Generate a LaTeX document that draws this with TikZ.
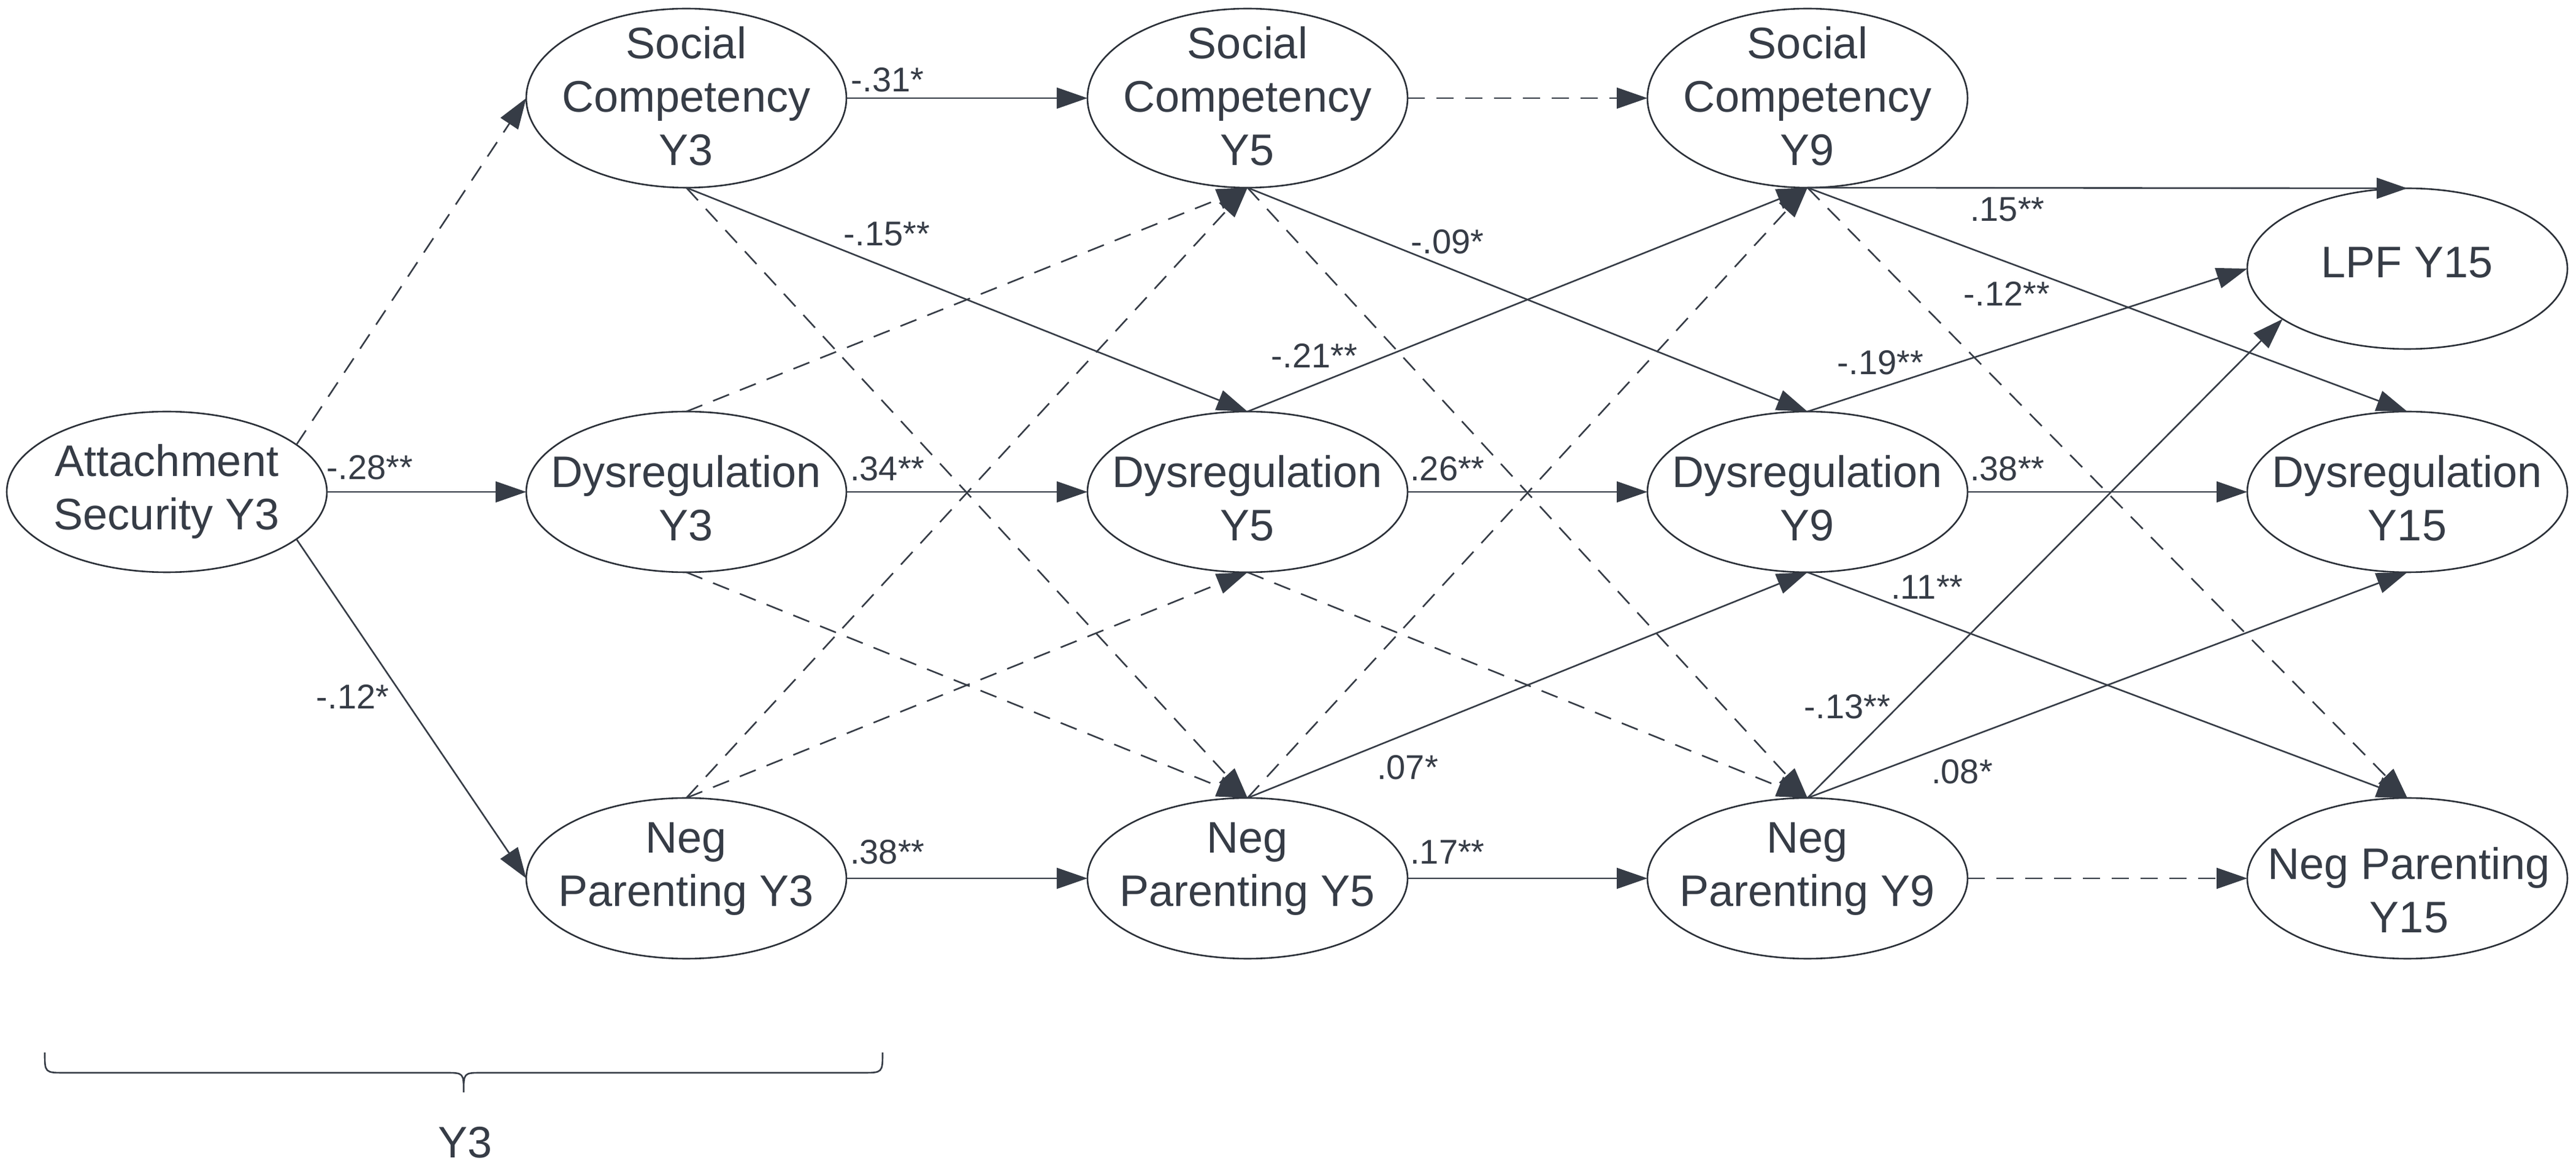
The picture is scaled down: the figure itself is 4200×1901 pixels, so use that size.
\documentclass[tikz,border=0pt]{standalone}
\usepackage{fontspec}
\setmainfont{Liberation Sans}
\usetikzlibrary{shapes.geometric,arrows.meta}
\definecolor{ink}{HTML}{363C46}
\begin{document}
\begin{tikzpicture}[x=0.1pt,y=-0.1pt,
  ell/.style={ellipse,draw=ink!80!black,line width=0.26pt,minimum width=52.2pt,minimum height=26.2pt,inner sep=0pt,outer sep=0pt},
  ell3/.style={ell,minimum height=29.2pt},
  txt/.style={text=ink,font=\fontsize{7.2pt}{8.7pt}\selectfont,align=center,inner sep=0pt},
  lbl/.style={text=ink,font=\fontsize{5.6pt}{6.7pt}\selectfont,inner sep=0pt},
  arr/.style={draw=ink,line width=0.26pt,-{Triangle[length=5pt,width=3.4pt]}},
  dsh/.style={arr,dash pattern=on 2.8pt off 1.9pt},
]
\useasboundingbox[fill=white] (0,0) rectangle (4200,1901);

% nodes
\node[ell] (A) at (272,802) {};
\node[txt] (At) at (272,801) {Attachment\\Security Y3};

\node[ell3] (S3) at (1119,160) {};
\node[txt] (S3t) at (1119,157) {Social\\Competency\\Y3};
\node[ell] (D3) at (1119,802) {};
\node[txt] (D3t) at (1119,812) {Dysregulation\\Y3};
\node[ell] (N3) at (1119,1432) {};
\node[txt] (N3t) at (1119,1417) {Neg\\Parenting Y3};

\node[ell3] (S5) at (2034,160) {};
\node[txt] (S5t) at (2034,157) {Social\\Competency\\Y5};
\node[ell] (D5) at (2034,802) {};
\node[txt] (D5t) at (2034,812) {Dysregulation\\Y5};
\node[ell] (N5) at (2034,1432) {};
\node[txt] (N5t) at (2034,1417) {Neg\\Parenting Y5};

\node[ell3] (S9) at (2947,160) {};
\node[txt] (S9t) at (2947,157) {Social\\Competency\\Y9};
\node[ell] (D9) at (2947,802) {};
\node[txt] (D9t) at (2947,812) {Dysregulation\\Y9};
\node[ell] (N9) at (2947,1432) {};
\node[txt] (N9t) at (2947,1417) {Neg\\Parenting Y9};

\node[ell] (L15) at (3925,438) {};
\node[txt] (L15t) at (3925,428) {LPF Y15};
\node[ell] (D15) at (3925,802) {};
\node[txt] (D15t) at (3925,812) {Dysregulation\\Y15};
\node[ell] (N15) at (3925,1432) {};
\node[txt] (N15t) at (3928,1451) {Neg Parenting\\Y15};

% edges Y3
\draw[dsh] (A.20) -- (S3.west);
\draw[arr] (A.east) -- (D3.west);
\draw[arr] (A.-20) -- (N3.west);

% Y3 -> Y5
\draw[arr] (S3.east) -- (S5.west);
\draw[arr] (S3.south) -- (D5.north);
\draw[dsh] (S3.south) -- (N5.north);
\draw[dsh] (D3.north) -- (S5.south);
\draw[arr] (D3.east) -- (D5.west);
\draw[dsh] (D3.south) -- (N5.north);
\draw[dsh] (N3.north) -- (S5.south);
\draw[dsh] (N3.north) -- (D5.south);
\draw[arr] (N3.east) -- (N5.west);

% Y5 -> Y9
\draw[dsh] (S5.east) -- (S9.west);
\draw[arr] (S5.south) -- (D9.north);
\draw[dsh] (S5.south) -- (N9.north);
\draw[arr] (D5.north) -- (S9.south);
\draw[arr] (D5.east) -- (D9.west);
\draw[dsh] (D5.south) -- (N9.north);
\draw[dsh] (N5.north) -- (S9.south);
\draw[arr] (N5.north) -- (D9.south);
\draw[arr] (N5.east) -- (N9.west);

% Y9 -> Y15
\draw[arr] (S9.south) -- (L15.north);
\draw[arr] (S9.south) -- (D15.north);
\draw[dsh] (S9.south) -- (N15.north);
\draw[arr] (D9.north) -- (L15.west);
\draw[arr] (D9.east) -- (D15.west);
\draw[arr] (D9.south) -- (N15.north);
\draw[arr] (N9.north) -- (L15.202);
\draw[arr] (N9.north) -- (D15.south);
\draw[dsh] (N9.east) -- (N15.west);

% labels
\node[lbl] (l1) at (603,762) {-.28**};
\node[lbl] (l2) at (575,1136) {-.12*};
\node[lbl] (l3) at (1447,130) {-.31*};
\node[lbl] (l4) at (1446,382) {-.15**};
\node[lbl] (l5) at (1447,764) {.34**};
\node[lbl] (l6) at (1447,1389) {.38**};
\node[lbl] (l7) at (2360,394) {-.09*};
\node[lbl] (l8) at (2143,580) {-.21**};
\node[lbl] (l9) at (2360,764) {.26**};
\node[lbl] (l10) at (2295,1251) {.07*};
\node[lbl] (l11) at (2360,1389) {.17**};
\node[lbl] (l12) at (3273,342) {.15**};
\node[lbl] (l13) at (3272,479) {-.12**};
\node[lbl] (l14) at (3066,591) {-.19**};
\node[lbl] (l15) at (3273,764) {.38**};
\node[lbl] (l16) at (3142,957) {.11**};
\node[lbl] (l17) at (3012,1152) {-.13**};
\node[lbl] (l18) at (3199,1258) {.08*};

% brace
\coordinate (bl) at (73,1716);
\coordinate (br) at (1439,1716);
\coordinate (bt) at (756,1781);
\draw[ink,line width=0.26pt] (bl) .. controls (73,1749) .. (106,1749) -- (726,1749)
  .. controls (756,1749) .. (bt) .. controls (756,1749) .. (786,1749) -- (1406,1749)
  .. controls (1439,1749) .. (br);
\node[txt] (Y3) at (759,1863) {Y3};
\end{tikzpicture}
\end{document}
